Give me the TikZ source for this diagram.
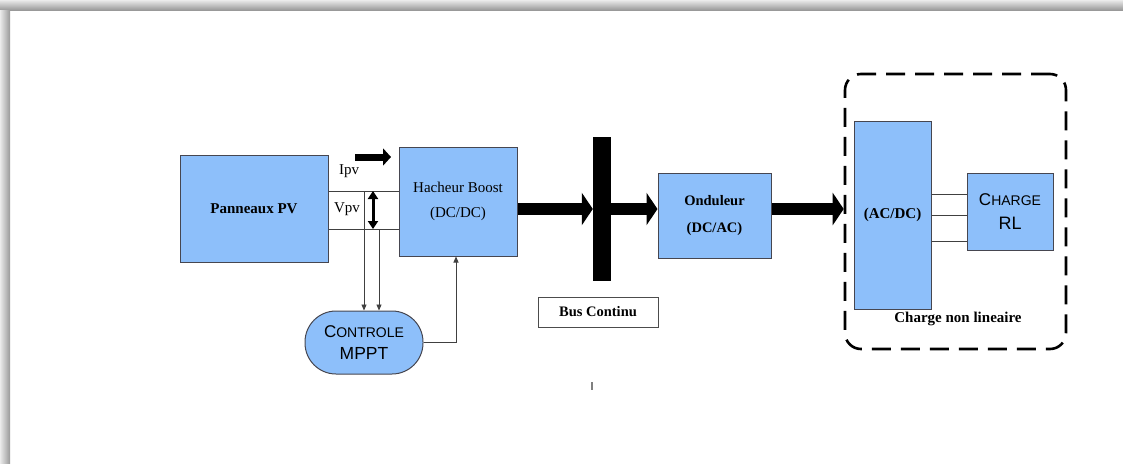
\documentclass[tikz,border=0pt]{standalone}
\usepackage{fontspec}
\setmainfont{Liberation Serif}
\newfontfamily\sansf{Liberation Sans}
\usetikzlibrary{arrows.meta}
\definecolor{boxblue}{RGB}{141,191,250}
\definecolor{boxborder}{RGB}{70,70,80}
\newcommand{\fs}[1]{\fontsize{#1}{#1}\selectfont}
\newcommand{\scap}[2]{{\fs{17}#1}{\fs{14}#2}}
\begin{document}
\begin{tikzpicture}[x=1pt,y=-1pt,
  box/.style={draw=boxborder, fill=boxblue, line width=1pt, inner sep=0pt, align=center},
  thin/.style={draw=black!75, line width=0.9pt},
  bigarrow/.style={line width=12.5pt, -{Triangle[length=11pt,width=32pt]}},
  smalltip/.style={-{Triangle[length=6pt,width=5pt]}}
]
\useasboundingbox (0,0) rectangle (1123,463);
% frame shadow
\shade[top color=black!8, bottom color=black!40] (0,0) rectangle (1123,10);
\shade[left color=black!8, right color=black!40] (0,10) rectangle (10,463);

% boxes
\node[box, minimum width=148pt, minimum height=107pt, font=\bfseries\fs{15}] (pv) at (254,208.5) {Panneaux PV};
\node[box, minimum width=118pt, minimum height=109pt, font=\fs{15}] (hb) at (458,201.5) {Hacheur Boost\\[10pt](DC/DC)};
\node[box, minimum width=118pt, minimum height=63pt, rounded corners=31pt, font=\sansf] (ctrl) at (364,342.5) {\scap{C}{ONTROLE}\\[8pt]{\fs{17.5}MPPT}};
\node[fill=black, inner sep=0pt, minimum width=18pt, minimum height=144pt] (bus) at (602,209) {};
\node[draw=black!70, fill=white, line width=1pt, minimum width=120pt, minimum height=30pt, inner sep=0pt, font=\bfseries\fs{14.5}] (busl) at (598,312) {Bus Continu};
\node[box, minimum width=113pt, minimum height=85pt, font=\bfseries\fs{14.5}] (ond) at (714.5,215.5) {Onduleur\\[12pt](DC/AC)};
\node[draw=black, line width=2.6pt, dash pattern=on 19pt off 10pt, rounded corners=16pt, minimum width=221pt, minimum height=275pt, inner sep=0pt] (ncl) at (955.5,211.5) {};
\node[box, minimum width=77pt, minimum height=188pt, font=\bfseries\fs{15}] (acdc) at (892.5,215) {(AC/DC)};
\node[box, minimum width=86pt, minimum height=77pt, font=\sansf] (rl) at (1010,211.5) {\scap{C}{HARGE}\\[10pt]{\fs{18}RL}};
\node[font=\bfseries\fs{15}] (ncltext) at (958,319) {Charge non lineaire};

% labels
\node[font=\fs{15}] (ipv) at (349,171) {Ipv};
\node[font=\fs{15}] (vpv) at (347,209) {Vpv};

% Ipv arrow
\coordinate (ipvA) at (355,157);
\coordinate (ipvB) at (391,157);
\draw[line width=7pt, -{Triangle[length=8pt,width=17pt]}] (ipvA) -- (ipvB);

% measurement lines
\coordinate (l1) at (pv.east |- 0,191);
\coordinate (l2) at (pv.east |- 0,229);
\draw[thin] (l1) -- (l1 -| hb.west);
\draw[thin] (l2) -- (l2 -| hb.west);
\coordinate (va) at (373,191);
\coordinate (vb) at (373,229);
\draw[line width=3pt, {Triangle[length=8pt,width=10pt]}-{Triangle[length=8pt,width=10pt]}] (va) -- (vb);
\coordinate (m1) at (364,191);
\coordinate (m2) at (379,229);
\draw[thin, smalltip] (m1) -- (m1 |- ctrl.north);
\draw[thin, smalltip] (m2) -- (m2 |- ctrl.north);
% feedback
\coordinate (fb) at (456,0);
\draw[thin, smalltip] (ctrl.east) -- (fb |- ctrl.east) -- (fb |- hb.south);

% power arrows
\draw[bigarrow] (hb.east |- bus.west) -- (bus.west);
\draw[bigarrow] (bus.east) -- (ond.west |- bus.east);
\draw[bigarrow] (ond.east |- bus.west) -- (ncl.west |- bus.west);

% three-phase lines
\foreach \yy/\nm in {194/a,215/b,241/c}{
  \coordinate (p\nm) at (acdc.east |- 0,\yy);
  \draw[thin] (p\nm) -- (p\nm -| rl.west);
}
% small tick
\coordinate (t1) at (592,382);
\coordinate (t2) at (592,390);
\draw[black!50, line width=1.5pt] (t1) -- (t2);
\end{tikzpicture}
\end{document}
